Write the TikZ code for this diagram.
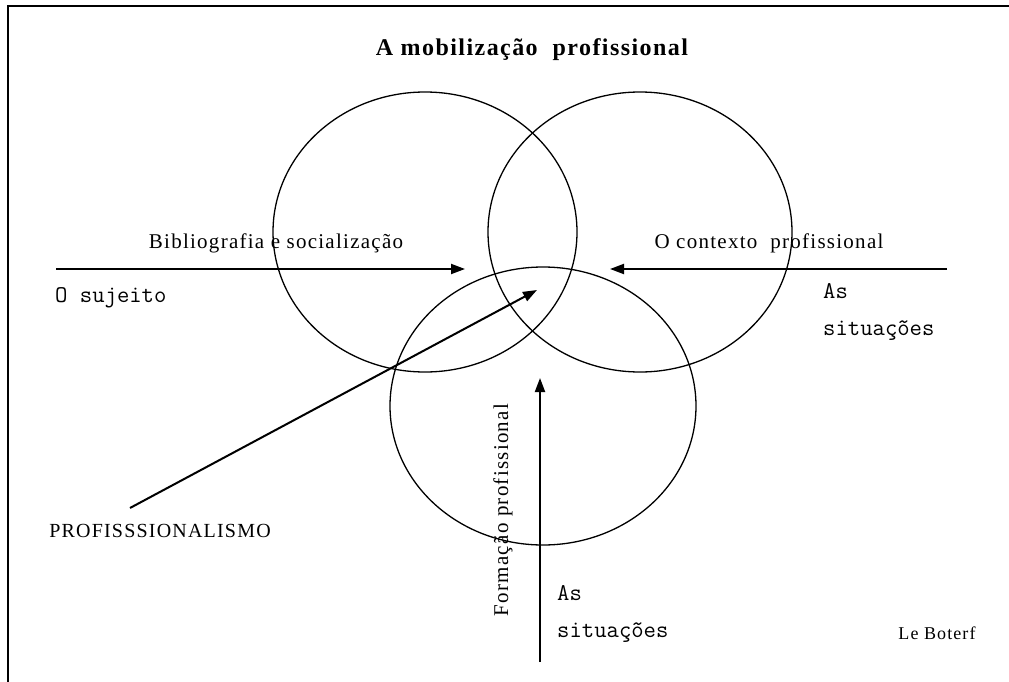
\documentclass[tikz,border=0pt]{standalone}
\usepackage{fontspec}
\setmainfont{Liberation Serif}
\newfontfamily\lblfont[LetterSpace=6]{Liberation Serif}
\usetikzlibrary{positioning}
\usetikzlibrary{arrows.meta}
\usetikzlibrary{shapes.geometric}

\begin{document}
\begin{tikzpicture}[
    x = 1pt,
    y = -1pt,
    ring/.style = {
      ellipse,
      draw,
      line width=1.3pt,
      minimum width=304pt,
      minimum height=280pt,
      inner sep=0pt
    },
    flow/.style = {
      line width=2pt,
      -{Triangle[length=14pt,width=10pt]}
    },
    lbl/.style = {
      font=\lblfont\fontsize{21}{25}\selectfont,
      inner sep=0pt
    },
    mono/.style = {
      font=\ttfamily\fontsize{24}{37}\selectfont,
      inner sep=0pt,
      align=left
    }
  ]
    \useasboundingbox (0,0) rectangle (1009,682);
    % frame
    \draw[line width=2pt] (8,682) -- (8,6) -- (1009,6);

    \node[font=\lblfont\bfseries\fontsize{24}{28}\selectfont] (title) at (532,50) {A mobilização\ \ profissional};

    % the three circles
    \node[ring] (bio) at (425,232) {};
    \node[ring] (ctx) at (640,232) {};
    \node[ring, minimum width=306pt, minimum height=278pt] (form) at (543,406) {};

    % arrows
    \coordinate (sujS) at (56,269);
    \coordinate (sujE) at (465,269);
    \coordinate (sitS) at (947,269);
    \coordinate (sitE) at (610,269);
    \coordinate (proS) at (130,508);
    \coordinate (proE) at (537,290);
    \coordinate (forS) at (540,662);
    \coordinate (forE) at (540,378);
    \draw[flow] (sujS) -- (sujE);
    \draw[flow] (sitS) -- (sitE);
    \draw[flow] (proS) -- (proE);
    \draw[flow] (forS) -- (forE);

    % labels
    \node[lbl] (biblio) at (276,243) {Bibliografia e socialização};
    \node[mono, anchor=west] (sujeito) at (55,298) {O sujeito};
    \node[lbl] (contexto) at (769,243) {O contexto\ \ profissional};
    \node[mono, anchor=north west] (sit1) at (823,283) {As\\situações};
    \node[lbl, font=\lblfont\fontsize{20}{24}\selectfont] (prof) at (160,531) {PROFISSSIONALISMO};
    \node[lbl, rotate=90] (formacao) at (503,510) {Formação profissional};
    \node[mono, anchor=north west] (sit2) at (557,585) {As\\situações};
    \node[lbl, font=\lblfont\fontsize{18}{22}\selectfont] (boterf) at (937,633) {Le Boterf};
  \end{tikzpicture}
\end{document}
